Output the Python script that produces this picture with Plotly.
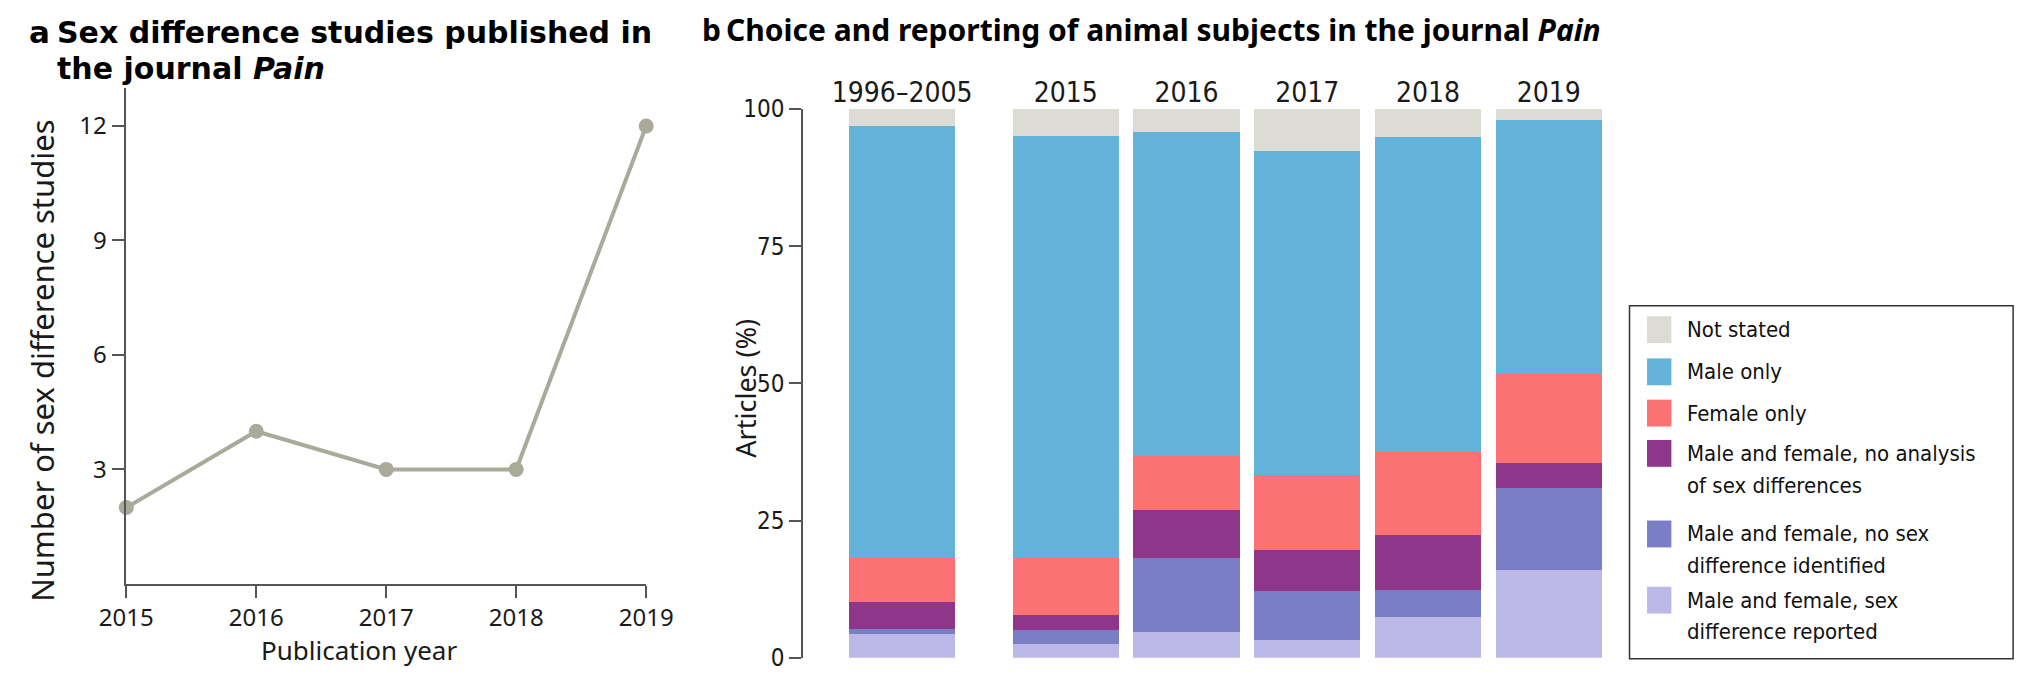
import plotly.graph_objects as go

# ---- Panel a data ----
years_a = [2015, 2016, 2017, 2018, 2019]
studies_a = [2, 4, 3, 3, 12]

# ---- Panel b data ----
periods_b = ["1996–2005", "2015", "2016", "2017", "2018", "2019"]
series_names = [
    "Male and female, sex difference reported",
    "Male and female, no sex difference identified",
    "Male and female, no analysis of sex differences",
    "Female only",
    "Male only",
    "Not stated",
]
legend_lines = [
    ["Male and female, sex", "difference reported"],
    ["Male and female, no sex", "difference identified"],
    ["Male and female, no analysis", "of sex differences"],
    ["Female only"],
    ["Male only"],
    ["Not stated"],
]
sex_diff_reported = [4.4, 2.5, 4.7, 3.3, 7.5, 15.9]
no_sex_diff = [0.9, 2.5, 13.5, 8.8, 4.9, 15.1]
no_analysis = [4.9, 2.8, 8.8, 7.5, 10.0, 4.4]
female_only = [7.9, 10.4, 9.8, 13.7, 15.1, 16.3]
male_only = [78.8, 76.8, 59.0, 59.0, 57.4, 46.2]
not_stated = [3.1, 5.0, 4.2, 7.7, 5.1, 2.1]
series_values = [sex_diff_reported, no_sex_diff, no_analysis, female_only, male_only, not_stated]

colors = ["#BCB9E9", "#7A7EC6", "#8D368A", "#FB7174", "#62B2DA", "#DCDCD5"]
line_color = "#A9AA99"

W, H = 2044, 689
def px(x):
    return x / W
def py(y):
    return 1 - y / H

bar_pos = [-0.355, 1, 2, 3, 4, 5]
SANS = "Noto Sans, Lato, sans-serif"
TITLE_A = "DejaVu Sans, Noto Sans, sans-serif"
NARROW = "Liberation Sans Narrow, DejaVu Sans Condensed, Roboto, sans-serif"
AXC = "#555"

fig = go.Figure()

fig.add_trace(go.Scatter(
    x=years_a, y=studies_a, mode="lines+markers",
    line=dict(color=line_color, width=4),
    marker=dict(color=line_color, size=15),
    xaxis="x", yaxis="y", showlegend=False, cliponaxis=False,
))

for name, vals, col in zip(series_names, series_values, colors):
    fig.add_trace(go.Bar(
        x=bar_pos, y=vals, name=name, marker=dict(color=col, line=dict(width=0)),
        width=0.88, xaxis="x2", yaxis="y2", showlegend=False,
    ))

fig.update_layout(
    width=W, height=H, barmode="stack",
    margin=dict(l=0, r=0, t=0, b=0),
    paper_bgcolor="white", plot_bgcolor="white",
    font=dict(family=SANS, color="#1a1a1a"),
    xaxis=dict(
        domain=[px(102), px(636)], range=[2015, 2019],
        tickvals=years_a, ticktext=[str(y) for y in years_a],
        showline=True, linecolor=AXC, linewidth=1.5,
        ticks="outside", ticklen=12, tickcolor=AXC, tickwidth=1.5,
        showgrid=False, zeroline=False, anchor="y",
        tickfont=dict(size=24, family=SANS),
    ),
    yaxis=dict(
        domain=[py(594), py(77)], range=[0, 13],
        tickvals=[3, 6, 9, 12],
        showline=True, linecolor=AXC, linewidth=1.5,
        ticks="outside", ticklen=13, tickcolor=AXC, tickwidth=1.5,
        showgrid=False, zeroline=False, anchor="x",
        tickfont=dict(size=24, family=SANS),
    ),
    xaxis2=dict(
        domain=[px(797), px(1625)], range=[-1.177, 5.5],
        tickvals=bar_pos, ticktext=periods_b, side="top",
        showline=False, ticks="", showgrid=False, zeroline=False, anchor="y2",
        tickfont=dict(size=28, family=NARROW),
    ),
    yaxis2=dict(
        domain=[py(671), py(99)], range=[0, 100],
        tickvals=[0, 25, 50, 75, 100],
        showline=True, linecolor=AXC, linewidth=1.5,
        ticks="outside", ticklen=12, tickcolor=AXC, tickwidth=1.5,
        showgrid=False, zeroline=False, anchor="x2",
        tickfont=dict(size=24, family=NARROW),
    ),
)

annotations = [
    dict(x=px(0), y=py(19), xref="paper", yref="paper", xanchor="left", yanchor="middle",
         text="<b>a</b>", showarrow=False, font=dict(size=31, family=TITLE_A, color="black")),
    dict(x=px(29), y=py(19), xref="paper", yref="paper", xanchor="left", yanchor="middle",
         text="<b>Sex difference studies published in</b>",
         showarrow=False, font=dict(size=30, family=TITLE_A, color="black")),
    dict(x=px(29), y=py(57), xref="paper", yref="paper", xanchor="left", yanchor="middle",
         text="<b>the journal <i>Pain</i></b>",
         showarrow=False, font=dict(size=30, family=TITLE_A, color="black")),
    dict(x=px(691), y=py(16), xref="paper", yref="paper", xanchor="left", yanchor="middle",
         text="<b>b</b>", showarrow=False, font=dict(size=30, family=SANS, color="black")),
    dict(x=px(716), y=py(16), xref="paper", yref="paper", xanchor="left", yanchor="middle",
         text="<b>Choice and reporting of animal subjects in the journal <i>Pain</i></b>",
         showarrow=False, font=dict(size=30, family=SANS, color="black")),
    # axis titles
    dict(x=px(16), y=py(362), xref="paper", yref="paper", xanchor="center", yanchor="middle",
         text="Number of sex difference studies", textangle=-90, showarrow=False,
         font=dict(size=31, family=SANS, color="#1a1a1a")),
    dict(x=px(341), y=py(663), xref="paper", yref="paper", xanchor="center", yanchor="middle",
         text="Publication year", showarrow=False,
         font=dict(size=26, family=SANS, color="#1a1a1a")),
    dict(x=px(738), y=py(390), xref="paper", yref="paper", xanchor="center", yanchor="middle",
         text="Articles (%)", textangle=-90, showarrow=False,
         font=dict(size=27, family=SANS, color="#1a1a1a")),
]

shapes = []
# legend box
lx0, ly0, lx1, ly1 = 1646, 304, 2040, 672
shapes.append(dict(type="rect", xref="paper", yref="paper",
                   x0=px(lx0), x1=px(lx1), y0=py(ly1), y1=py(ly0),
                   line=dict(color="#333", width=1.5), fillcolor="rgba(0,0,0,0)"))
row_y = [611, 542, 458, 416, 373, 329]  # centre of first text line for each item
line_gap = 33
for lines, col, yc in zip(legend_lines, colors, row_y):
    shapes.append(dict(type="rect", xref="paper", yref="paper",
                       x0=px(1664), x1=px(1689), y0=py(yc + 14), y1=py(yc - 14),
                       line=dict(width=0), fillcolor=col))
    for k, txt in enumerate(lines):
        annotations.append(dict(x=px(1703), y=py(yc + k * line_gap), xref="paper", yref="paper",
                                xanchor="left", yanchor="middle", align="left", text=txt,
                                showarrow=False, font=dict(size=22, family=NARROW, color="#111")))

fig.update_layout(annotations=annotations, shapes=shapes)
fig.write_html("out.html", config={"displayModeBar": False},
               post_script="document.body.style.margin='0';document.body.style.overflow='hidden';")
